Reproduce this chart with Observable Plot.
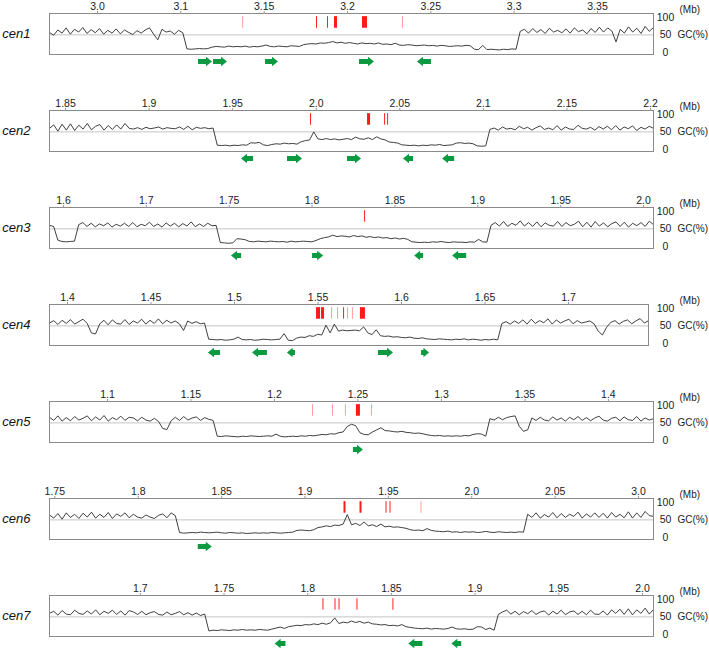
<!DOCTYPE html>
<html><head><meta charset="utf-8">
<script src="https://cdn.jsdelivr.net/npm/d3@7"></script>
<script src="https://cdn.jsdelivr.net/npm/@observablehq/plot@0.6"></script>
<style>
body{margin:0;background:#fff;font-family:"Liberation Sans",Arial,sans-serif;}
#chart{width:709px;margin-top:-3px;}
#chart svg{display:block;overflow:visible;}
</style></head><body><div id="chart"></div>
<script>
// ---------- data ----------
const names = ["cen1","cen2","cen3","cen4","cen5","cen6","cen7"];

const cen1Domain = [3.0212, 3.3836];
const cen1Ticks = [3.05, 3.1, 3.15, 3.2, 3.25, 3.3, 3.35];
const cen1TickLabels = ["3.0","3.1","3.15","3.2","3.25","3.3","3.35"];
const cen1GC = [57,49,64,55,70,52,66,58,71,54,65, 56,68,52,63,55,67,53,64,57,51,62, 55,64,70,52,36,66,58,61,52,63,56,
 10,9,10,11,10,11, 15,17,16,15,18,16, 17,16,18,15,17,16, 18,21,17,16,18,17, 16,19,18,17,22,24, 25,24,27,26,28,31,
 27,29,26,28,26,24, 27,25,26,24,27,23, 24,22,26,21,20,22, 21,19,20,21,19,20, 18,20,19,17,18,19, 18,20,19,9,8,20,
 8,9,8,7,9,8,10,9,
 60,66,55,68,57,65,54,69,58,63,56, 67,55,70,59,64,53,68,57,72,58,70, 61,30,66,55,73,58,69,54,74,60,71];
const cen1Thick = [[3.1922,3.1940],[3.2090,3.2120]];
const cen1Thin = [3.1371,3.1814,3.1880,3.2330];
const cen1ThinKind = ["weak","strong","strong","weak"];
const cen1Arrows = [[3.1106,3.1190,"+"],[3.1196,3.1280,"+"],[3.1508,3.1586,"+"],[3.2072,3.2162,"+"],[3.2420,3.2504,"-"]];

const cen2Domain = [1.8404, 2.2018];
const cen2Ticks = [1.85,1.9,1.95,2.0,2.05,2.1,2.15,2.2];
const cen2TickLabels = ["1.85","1.9","1.95","2.0","2.05","2.1","2.15","2.2"];
const cen2GC = [60,70,52,72,55,73,54,69,58,74, 56,66,71,55,68,57,70,58,74,60, 58,62,57,63,59,61,64,58,62,60, 59,64,57,66,56,63,60,62,59,61,
 12,11,12,10,12,11,13,12,19,18, 20,13,11,14,16,15,18,16,17,15, 22,25,27,50,30,28,31,28,30,27, 29,31,28,35,30,29,33,28,36,30,
 27,21,20,18,13,12,11,12,10,12, 11,13,12,14,11,12,13,18,19,17, 18,16,10,9,10,
 57,61,55,64,58,60,56,66,59,63, 55,62,67,57,61,56,68,55,64,58, 57,69,60,58,63,55,65,58,66,56, 68,55,64,59,67,54,63,58,66,60];
const cen2Thick = [[2.0307,2.0325]];
const cen2Thin = [1.9966,2.0409,2.0427];
const cen2ThinKind = ["strong","strong","strong"];
const cen2Arrows = [[1.9553,1.9625,"-"],[1.9828,1.9918,"+"],[2.0187,2.0271,"+"],[2.0522,2.0582,"-"],[2.0756,2.0828,"-"]];

const cen3Domain = [1.6416, 2.006];
const cen3Ticks = [1.65,1.7,1.75,1.8,1.85,1.9,1.95,2.0];
const cen3TickLabels = ["1.6","1.7","1.75","1.8","1.85","1.9","1.95","2.0"];
const cen3GC = [60,57,18,14,13,14,15,
 62,68,57,66,56,64,59,67,55,63, 58,66,57,68,56,63,59,69,57,64, 55,67,58,66,56,65,58,70,56,64, 57,66,59,60,
 11,10,9,10,22,21,19,14,13,15, 14,13,15,14,13,14,12,15,13,14, 15,14,13,17,22,25,27,32,28,30, 29,27,31,28,30,26,28,25,27,24,
 25,22,24,21,23,20,13,12,11,12, 11,13,12,14,12,11,13,12,12,11, 13,12,20,13,12,
 60,68,58,71,57,66,60,73,58,68, 57,70,56,67,60,58,71,57,68,59, 63,72,56,69,55,71,58,67,56,65, 70,57,69,55,66,59,68,57,72,62];
const cen3Thick = [];
const cen3Thin = [1.8317];
const cen3ThinKind = ["strong"];
const cen3Arrows = [[1.7514,1.7575,"-"],[1.8003,1.8070,"+"],[1.8619,1.8673,"-"],[1.8848,1.8933,"-"]];

const cen4Domain = [1.3892, 1.7479];
const cen4Ticks = [1.4,1.45,1.5,1.55,1.6,1.65,1.7];
const cen4TickLabels = ["1.4","1.45","1.5","1.55","1.6","1.65","1.7"];
const cen4GC = [58,65,54,66,57,68,55,62,69,57, 30,27,56,66,53,67,57,55,68,54, 64,58,69,55,66,57,70,56,66,58, 64,56,37,64,57,62,56,58,
 12,11,10,11,9,10,12, 18, 11,10,11,9,10,12,11,10,11,12, 28,9,8, 15,18,17,22,20,26,24,52, 30,55,35,38,36, 37,38,36,47,30,25,39,22,
 20,21,18,19,17,16,18,15,14,16, 13,12,11,13,12,11,10,12,11,13,10,12,11,9,11,10,12,10,
 57,62,55,64,57,67,55,69,57,65, 59,70,55,67,58,64,69,56,65,58, 61,64,56,35,24,46,60,65,55,63, 67,56,64,71,58,65];
const cen4Thick = [[1.5491,1.5515],[1.5521,1.5539],[1.5754,1.5784]];
const cen4Thin = [1.5581,1.5617,1.5653,1.5677,1.5706];
const cen4ThinKind = ["weak","weak","strong","weak","weak"];
const cen4Arrows = [[1.4844,1.4916,"-"],[1.5108,1.5197,"-"],[1.5317,1.5365,"-"],[1.5862,1.5952,"+"],[1.6120,1.6168,"+"]];

const cen5Domain = [1.0653, 1.427];
const cen5Ticks = [1.1,1.15,1.2,1.25,1.3,1.35,1.4];
const cen5TickLabels = ["1.1","1.15","1.2","1.25","1.3","1.35","1.4"];
const cen5GC = [66,57,70,55,65,56,68,58,63,70, 56,67,58,71,55,65,59,69,57,66, 64,56,66,58,55,63,54,34,31,56, 66,57,68,58,64,67,57,65,60,57,
 12,11,13,12,11,10,12,11,13,12, 11,12,13,12,18,12,10,11,12,11, 13,12,14,13,15,17,16,19,18,22, 24,40,46,42,22,17,16,24,30,36,
 28,27,25,24,26,23,22,20,21,19, 16,14,13,14,12,13,12,13,12,14, 13,17,19,18,12,
 62,58,66,59,65,68,70,40,26,30, 64,57,66,58,56,67,58,64,55,66, 59,68,57,65,56,64,69,58,55,63, 66,56,67,59,57,68,55,64,58,62];
const cen5Thick = [[1.2491,1.2515]];
const cen5Thin = [1.2228,1.2348,1.2425,1.2581];
const cen5ThinKind = ["weak","weak","weak","weak"];
const cen5Arrows = [[1.2473,1.2533,"+"]];

const cen6Domain = [1.7468, 2.109];
const cen6Ticks = [1.75,1.8,1.85,1.9,1.95,2.0,2.05,2.1];
const cen6TickLabels = ["1.75","1.8","1.85","1.9","1.95","2.0","2.05","3.0"];
const cen6GC = [64,55,68,52,70,57,66,54,69,58, 72,55,66,57,71,54,67,60,70,56, 66,58,55,64,58,54,63,67,56,70,62,
 14,12,13,14,13,15,14,13,14,15, 13,12,14,13,12,13,11,12,13,12, 13,12,14,13,12,13,14,15,20,21, 20,19,22,28,30,33,31,35,34,38,
 65,36,40,34,44,33,36,31,38,30, 32,29,30,28,26,22,20,21,19,25, 20,18,17,16,18,15,16,14,16,15, 16,14,15,17,15,14,16,15,14,15,14,16,15,
 66,57,70,55,65,58,71,56,68,57, 66,60,72,55,67,58,70,57,69,55, 71,58,66,56,73,55,70,57,74,62,60];
const cen6Thick = [[1.9234,1.9246],[1.9330,1.9342]];
const cen6Thin = [1.9486,1.9510,1.9696];
const cen6ThinKind = ["strong","strong","weak"];
const cen6Arrows = [[1.8360,1.8444,"+"]];

const cen7Domain = [1.6457, 2.0066];
const cen7Ticks = [1.7,1.75,1.8,1.85,1.9,1.95,2.0];
const cen7TickLabels = ["1.7","1.75","1.8","1.85","1.9","1.95","2.0"];
const cen7GC = [60,66,55,68,58,56,69,60,57,67, 58,70,56,66,60,69,57,67,55,68, 64,57,66,56,62,65,57,55,64,56, 60,65,56,62,55,61,54,58,
 10,12,11,13,12,11,13,12,14,12, 13,12,14,13,12,15,18,21,17,22, 24,26,25,28,27,30,28,32,29,33, 47,31,35,33,38,34,37,32,35,30,
 29,27,28,25,26,24,28,22,20,18, 17,16,18,15,17,16,15,17,21,16, 15,16,14,15,22,21,14,18,12,
 57,64,69,58,66,56,65,59,68,57, 64,67,55,66,58,69,56,64,67,57, 66,56,69,58,57,67,55,70,60,72, 57,73,56,70,60,75,58,71];
const cen7Thick = [];
const cen7Thin = [1.8091,1.8163,1.8187,1.8294,1.8509];
const cen7ThinKind = ["strong","strong","strong","strong","strong"];
const cen7Arrows = [[1.7805,1.7870,"-"],[1.8604,1.8688,"-"],[1.8861,1.8920,"-"]];

const gcTickValues = [0, 50, 100];

// ---------- layout ----------
const panels = [
  {domain:cen1Domain,ticks:cen1Ticks,labels:cen1TickLabels,gc:cen1GC,thick:cen1Thick,thin:cen1Thin,kind:cen1ThinKind,arrows:cen1Arrows},
  {domain:cen2Domain,ticks:cen2Ticks,labels:cen2TickLabels,gc:cen2GC,thick:cen2Thick,thin:cen2Thin,kind:cen2ThinKind,arrows:cen2Arrows},
  {domain:cen3Domain,ticks:cen3Ticks,labels:cen3TickLabels,gc:cen3GC,thick:cen3Thick,thin:cen3Thin,kind:cen3ThinKind,arrows:cen3Arrows},
  {domain:cen4Domain,ticks:cen4Ticks,labels:cen4TickLabels,gc:cen4GC,thick:cen4Thick,thin:cen4Thin,kind:cen4ThinKind,arrows:cen4Arrows},
  {domain:cen5Domain,ticks:cen5Ticks,labels:cen5TickLabels,gc:cen5GC,thick:cen5Thick,thin:cen5Thin,kind:cen5ThinKind,arrows:cen5Arrows},
  {domain:cen6Domain,ticks:cen6Ticks,labels:cen6TickLabels,gc:cen6GC,thick:cen6Thick,thin:cen6Thin,kind:cen6ThinKind,arrows:cen6Arrows},
  {domain:cen7Domain,ticks:cen7Ticks,labels:cen7TickLabels,gc:cen7GC,thick:cen7Thick,thin:cen7Thin,kind:cen7ThinKind,arrows:cen7Arrows}
];
const boxRight = [653,653,653,648,653,653,653];
const W = 709, H = 97, MT = 16, BOX = 41, ML = 49;
const Y0 = -6, Y1 = 111;
const UPX = (Y1 - Y0) / BOX;
const FONT = "Liberation Sans, Arial, sans-serif";

function arrowShapes(arrows, kx) {
  const yc = Y0 - 7.5 * UPX, b = 2.4 * UPX, hh = 4.8 * UPX;
  const pts = [];
  arrows.forEach(([s, e, dir], k) => {
    const h = Math.min(6 * kx, (e - s) * 0.7);
    if (dir === "+") {
      pts.push({k, x: s, y1: yc - b, y2: yc + b}, {k, x: e - h, y1: yc - b, y2: yc + b},
               {k, x: e - h, y1: yc - hh, y2: yc + hh}, {k, x: e, y1: yc, y2: yc});
    } else {
      pts.push({k, x: s, y1: yc, y2: yc}, {k, x: s + h, y1: yc - hh, y2: yc + hh},
               {k, x: s + h, y1: yc - b, y2: yc + b}, {k, x: e, y1: yc - b, y2: yc + b});
    }
  });
  return pts;
}

const chart = document.getElementById("chart");
panels.forEach((p, idx) => {
  const right = boxRight[idx];
  const n = p.gc.length;
  const step = (p.domain[1] - p.domain[0]) / (n - 1);
  const gcData = p.gc.map((v, i) => ({x: p.domain[0] + i * step, v}));
  const kx = (p.domain[1] - p.domain[0]) / (right - ML);
  const arrows = arrowShapes(p.arrows, kx);
  const lab = new Map(p.ticks.map((t, i) => [t, p.labels[i]]));
  const svg = Plot.plot({
    width: W, height: H,
    marginTop: MT, marginBottom: H - MT - BOX, marginLeft: ML, marginRight: W - right,
    x: {domain: p.domain},
    y: {domain: [Y0, Y1], axis: null},
    color: {domain: ["strong", "weak"], range: ["#ff2020", "#ff9c9c"]},
    style: {fontFamily: FONT, fontSize: "10.5px", color: "#222", background: "white", overflow: "visible"},
    marks: [
      Plot.ruleY([50], {stroke: "#c4c4c4", strokeWidth: 1}),
      Plot.rect(p.thick, {x1: d => d[0], x2: d => d[1], y1: () => 69, y2: () => 102, fill: "#ff1a1a"}),
      Plot.ruleX(p.thin, {x: d => d, y1: () => 69, y2: () => 102, stroke: (d, i) => p.kind[i], strokeWidth: 1}),
      Plot.line(gcData, {x: "x", y: "v", stroke: "#2a2a2a", strokeWidth: 0.9}),
      Plot.frame({stroke: "#8a8a8a"}),
      Plot.areaY(arrows, {x: "x", y1: "y1", y2: "y2", z: "k", fill: "#0c9a40", curve: "linear"}),
      Plot.axisX(p.ticks, {anchor: "top", label: null, tickSize: 3, tickPadding: 1, stroke: "#999", fill: "#222",
                           tickFormat: d => lab.get(d), fontSize: 10.5}),
      Plot.text([names[idx]], {text: d => d, y: () => 52, frameAnchor: "left", dx: 30 - ML, textAnchor: "end",
                               fontStyle: "italic", fontSize: 13, fill: "#111"}),
      Plot.text(gcTickValues, {text: d => String(d), y: d => d, frameAnchor: "right", dx: 665 - right,
                               textAnchor: "middle", fill: "#222"}),
      Plot.text(["GC(%)"], {text: d => d, y: () => 50, frameAnchor: "right", dx: 677 - right, textAnchor: "start",
                            fill: "#222", fontSize: 10}),
      Plot.text(["(Mb)"], {text: d => d, frameAnchor: "top-right", dx: 679 - right, dy: -8, textAnchor: "start",
                           fill: "#222", fontSize: 10})
    ]
  });
  chart.appendChild(svg);
});
</script>
</body></html>
